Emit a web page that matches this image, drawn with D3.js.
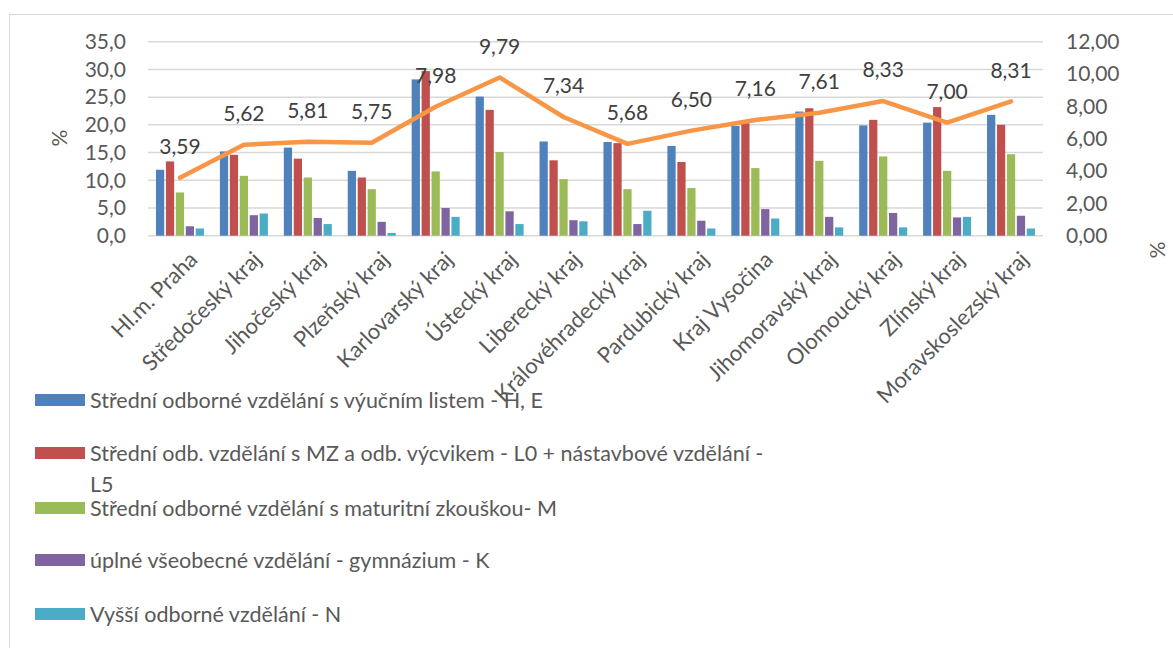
<!DOCTYPE html>
<html><head><meta charset="utf-8">
<script src="https://cdn.jsdelivr.net/npm/d3@7"></script>
<style>
html,body{margin:0;padding:0;background:#fff;overflow:hidden}
svg{display:block;font-family:Lato,"Open Sans",sans-serif}
</style></head><body>
<svg id="c" width="1173" height="648"></svg>
<script>
const categories = ["Hl.m. Praha","Středočeský kraj","Jihočeský kraj","Plzeňský kraj","Karlovarský kraj","Ústecký kraj","Liberecký kraj","Královéhradecký kraj","Pardubický kraj","Kraj Vysočina","Jihomoravský kraj","Olomoucký kraj","Zlínský kraj","Moravskoslezský kraj"];
const seriesNames = ["Střední odborné vzdělání s výučním listem - H, E","Střední odb. vzdělání s MZ a odb. výcvikem - L0 + nástavbové vzdělání - L5","Střední odborné vzdělání s maturitní zkouškou- M","úplné všeobecné vzdělání - gymnázium - K","Vyšší odborné vzdělání - N"];
const sHE = [11.9,15.2,15.9,11.7,28.2,25.1,17.0,16.9,16.2,19.8,22.4,19.9,20.4,21.8];
const sL  = [13.4,14.6,13.9,10.5,29.7,22.7,13.6,16.7,13.3,20.3,23.0,20.9,23.2,20.0];
const sM  = [7.8,10.8,10.5,8.4,11.6,15.1,10.2,8.4,8.6,12.2,13.5,14.3,11.7,14.7];
const sK  = [1.7,3.7,3.2,2.5,5.0,4.4,2.8,2.1,2.7,4.8,3.4,4.1,3.3,3.6];
const sN  = [1.3,4.0,2.1,0.5,3.4,2.1,2.6,4.5,1.3,3.1,1.5,1.5,3.4,1.3];
const lineValues = [3.59,5.62,5.81,5.75,7.98,9.79,7.34,5.68,6.50,7.16,7.61,8.33,7.00,8.31];
const leftTicks = [0,5,10,15,20,25,30,35];
const rightTicks = [0,2,4,6,8,10,12];
const colors = ["#4F81BD","#C0504D","#9BBB59","#8064A2","#4BACC6"];
const lineColor = "#F79646";
const series = [sHE,sL,sM,sK,sN];

const svg = d3.select("#c");
const fmt1 = v => d3.format(".1f")(v).replace(".",",");
const fmt2 = v => d3.format(".2f")(v).replace(".",",");

// frame
svg.append("line").attr("x1",9.5).attr("x2",9.5).attr("y1",14).attr("y2",648).attr("stroke","#d9d9d9");
svg.append("line").attr("x1",9).attr("x2",1173).attr("y1",14.5).attr("y2",14.5).attr("stroke","#d9d9d9");

const x0 = d3.scaleBand().domain(categories).range([148,1043]).paddingInner(0).paddingOuter(0);
const yL = d3.scaleLinear().domain([0,35]).range([235.7,41.7]);
const yR = d3.scaleLinear().domain([0,12]).range([235.7,41.7]);
const x1 = d3.scaleBand().domain(d3.range(5)).range([0,48]).paddingInner(0.17);

// gridlines
svg.append("g").selectAll("line").data(leftTicks).join("line")
  .attr("x1",148).attr("x2",1043).attr("y1",d=>yL(d)).attr("y2",d=>yL(d))
  .attr("stroke","#d9d9d9").attr("stroke-width",1.5);

// left axis
const gL = svg.append("g").attr("transform","translate(126,0)")
  .call(d3.axisLeft(yL).tickValues(leftTicks).tickFormat(fmt1).tickSize(0).tickPadding(0));
gL.select(".domain").remove();
gL.selectAll("text").attr("fill","#595959").style("font-size","21px").style("font-family","Lato");

const gR = svg.append("g").attr("transform","translate(1066,0)")
  .call(d3.axisRight(yR).tickValues(rightTicks).tickFormat(fmt2).tickSize(0).tickPadding(0));
gR.select(".domain").remove();
gR.selectAll("text").attr("fill","#595959").style("font-size","21px").style("font-family","Lato");

// bars
const groups = svg.append("g").selectAll("g").data(categories).join("g")
  .attr("transform",d=>`translate(${x0(d)+x0.bandwidth()/2-24},0)`);
groups.selectAll("rect").data((d,i)=>series.map((s,k)=>({k,v:s[i]}))).join("rect")
  .attr("x",d=>x1(d.k)).attr("width",x1.bandwidth())
  .attr("y",d=>yL(d.v)).attr("height",d=>yL(0)-yL(d.v))
  .attr("fill",d=>colors[d.k]);

// x labels
svg.append("g").selectAll("text").data(categories).join("text")
  .attr("transform",d=>`translate(${x0(d)+x0.bandwidth()/2+8},250) rotate(-45)`)
  .attr("text-anchor","end").attr("dy","0.7em")
  .attr("fill","#595959").style("font-size","22px").text(d=>d);

// line
const line = d3.line().x((d,i)=>x0(categories[i])+x0.bandwidth()/2).y(d=>yR(d));
svg.append("path").datum(lineValues).attr("d",line).attr("fill","none")
  .attr("stroke",lineColor).attr("stroke-width",4.5).attr("stroke-linejoin","round").attr("stroke-linecap","round");

// data labels
svg.append("g").selectAll("text").data(lineValues).join("text")
  .attr("x",(d,i)=>x0(categories[i])+x0.bandwidth()/2)
  .attr("y",d=>yR(d)-31).attr("dy","0.35em").attr("text-anchor","middle")
  .attr("fill","#404040").style("font-size","21px").text(fmt2);

// axis titles
svg.append("text").attr("transform","translate(60,138) rotate(-90)").attr("text-anchor","middle").attr("dy","0.35em")
  .attr("fill","#595959").style("font-size","21px").text("%");
svg.append("text").attr("transform","translate(1157,250) rotate(90)").attr("text-anchor","middle").attr("dy","0.35em")
  .attr("fill","#595959").style("font-size","21px").text("%");

// legend
const legY = [400,453,508,560,614];
const leg = svg.append("g").selectAll("g").data(seriesNames).join("g")
  .attr("transform",(d,i)=>`translate(35,${legY[i]})`);
leg.append("rect").attr("x",0).attr("y",-6).attr("width",50).attr("height",12).attr("fill",(d,i)=>colors[i]);
leg.append("text").attr("x",55).attr("dy","0.35em").attr("fill","#595959").style("font-size","21.5px")
  .each(function(d,i){
    const t = d3.select(this);
    if(i===1){
      t.append("tspan").attr("x",55).text("Střední odb. vzdělání s MZ a odb. výcvikem - L0 + nástavbové vzdělání -");
      t.append("tspan").attr("x",55).attr("dy","1.45em").text("L5");
    } else t.text(d);
  });
</script></body></html>
